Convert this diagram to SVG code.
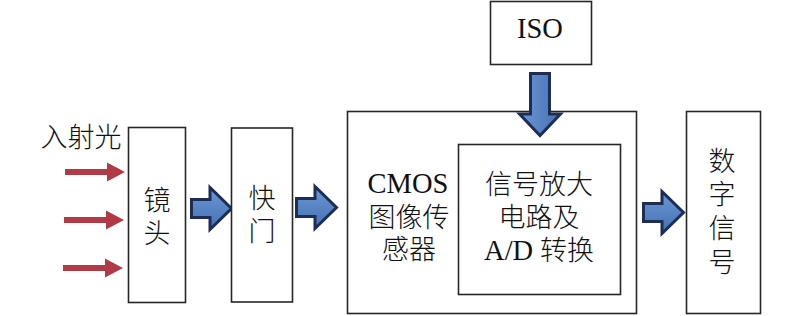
<svg xmlns="http://www.w3.org/2000/svg" width="800" height="316" viewBox="0 0 800 316">
<style>
.box{fill:#fff;stroke:#262626;stroke-width:1.6}
.t{font-family:"Liberation Serif","Noto Sans CJK SC",serif;font-size:27px;font-weight:300;fill:#111;text-anchor:middle}
.l{font-size:28.5px}
.ba{fill:url(#bg);stroke:#1f2d55;stroke-width:3;stroke-linejoin:miter}
.ra{fill:#b23a47}
</style>
<defs>
<linearGradient id="bg" x1="0" y1="0" x2="0" y2="1">
<stop offset="0" stop-color="#6b98d6"/>
<stop offset="1" stop-color="#4670b2"/>
</linearGradient>
<linearGradient id="bgv" x1="0" y1="0" x2="1" y2="0">
<stop offset="0" stop-color="#6b98d6"/>
<stop offset="1" stop-color="#4670b2"/>
</linearGradient>
<path id="rarr" d="M1.5,13.5 H20 V1.5 L41.5,22.5 L20,43.5 V31.5 H1.5 Z"/>
<path id="red" d="M0,-3 H42 V-9.5 L60,0 L42,9.5 V3 H0 Z"/>
</defs>
<rect width="800" height="316" fill="#fff"/>
<g id="connectors">
<use href="#red" class="ra" transform="translate(65,172)"/>
<use href="#red" class="ra" transform="translate(64,220)"/>
<use href="#red" class="ra" transform="translate(63,268)"/>
<use href="#rarr" class="ba" transform="translate(190,186)"/>
<use href="#rarr" class="ba" transform="translate(295,185)"/>
<use href="#rarr" class="ba" transform="translate(642,190)"/>
</g>
<g id="incident-label"><text class="t" x="81" y="147">入射光</text></g>
<g id="lens">
<rect class="box" x="128.5" y="127.5" width="57" height="175"/>
<text class="t" x="157" y="210">镜</text>
<text class="t" x="157" y="243">头</text>
</g>
<g id="shutter">
<rect class="box" x="231.5" y="128" width="61" height="174"/>
<text class="t" x="262" y="208">快</text>
<text class="t" x="262" y="241">门</text>
</g>
<g id="cmos">
<rect class="box" x="347.5" y="111.5" width="289" height="202"/>
<text class="t l" x="408" y="193">CMOS</text>
<text class="t" x="409" y="227">图像传</text>
<text class="t" x="409" y="259">感器</text>
</g>
<g id="amp">
<rect class="box" x="458.5" y="144.5" width="162" height="150"/>
<text class="t" x="539" y="194">信号放大</text>
<text class="t" x="539" y="227">电路及</text>
<text class="t" x="539" y="260"><tspan class="l">A/D</tspan> 转换</text>
</g>
<g id="iso">
<rect class="box" x="490.5" y="1.5" width="101" height="63"/>
<text class="t l" x="540" y="38">ISO</text>
</g>
<g id="digital">
<rect class="box" x="686.5" y="111.5" width="74" height="202"/>
<text class="t" x="722" y="171">数</text>
<text class="t" x="722" y="204">字</text>
<text class="t" x="722" y="238">信</text>
<text class="t" x="722" y="272">号</text>
</g>
<g id="iso-arrow">
<path class="ba" style="fill:url(#bgv)" d="M530.5,73.5 H549.5 V114 H560.5 L540,135.5 L519.5,114 H530.5 Z"/>
</g>
</svg>
